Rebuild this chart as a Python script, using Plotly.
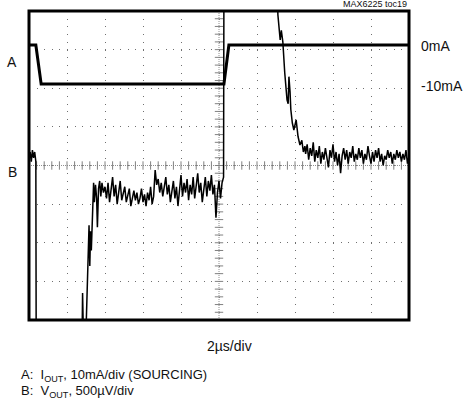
import numpy as np
import plotly.graph_objects as go

# ---- data (in scope divisions: x 0..10, y -4..4) ----
# Trace A: output current (1 div = 10 mA), 0mA level ~3.12 div
A_t = [0.00, 0.18, 0.32, 5.13, 5.26, 10.00]
A_v = [3.12, 3.12, 2.11, 2.11, 3.12, 3.12]

# Trace B: output voltage (1 div = 500 uV)
B_left_t = [0.00, 0.03, 0.06, 0.09, 0.12, 0.15, 0.18, 0.19]
B_left_v = [0.15, 0.35, 0.10, 0.40, 0.20, 0.35, 0.10, -5.0]

B_rise_t = [1.39, 1.41, 1.43, 1.45, 1.50, 1.53, 1.56, 1.58, 1.60, 1.62, 1.64, 1.66,
            1.68, 1.70, 1.72, 1.75, 1.78, 1.80, 1.83, 1.86, 1.89, 1.92, 1.96]
B_rise_v = [-5.0, -3.3, -4.3, -5.0, -4.3, -3.2, -2.5, -1.55, -2.6, -1.7, -2.2, -1.5,
            -1.05, -0.45, -0.95, -0.5, -0.85, -1.6, -0.6, -0.4, -0.8, -0.45, -0.7]

B_mid_t0 = 2.00
B_mid_v = [-0.55, -0.85, -0.45, -0.95, -0.60, -0.30, -0.80, -0.50, -1.00, -0.65,
           -0.40, -0.90, -0.70, -0.55, -0.95, -0.75, -0.60, -1.05, -0.80, -0.65,
           -0.90, -0.70, -1.00, -0.85, -0.60, -0.95, -0.75, -1.05, -0.70, -0.90,
           -0.55, -1.00, -0.80, -0.12, -0.50, -0.35, -0.70, -0.45, -0.80, -0.55,
           -0.30, -0.75, -0.50, -0.95, -0.60, -0.40, -0.85, -0.55, -1.05, -0.65,
           -0.25, -0.80, -0.45, -0.70, -0.35, -0.90, -0.50, -0.75, -0.30, -0.85,
           -0.55, -0.20, -0.70, -0.45, -0.95, -0.60, -0.30, -0.80, -0.40, -0.65,
           -0.25, -0.75, -0.50, -1.35, -0.70, -0.40, -0.85, -0.45]

B_jump_t = [5.12, 5.13, 6.52, 6.55, 6.61, 6.64, 6.66, 6.68, 6.73, 6.79, 6.82, 6.84,
            6.87, 6.89, 6.93, 6.97, 7.00, 7.03, 7.08, 7.13, 7.18, 7.22, 7.26]
B_jump_v = [-0.30, 5.0, 5.0, 3.9, 3.25, 3.5, 3.3, 3.2, 2.4, 1.7, 1.6, 2.3,
            1.9, 1.45, 1.1, 0.92, 1.05, 1.18, 0.75, 0.53, 0.65, 0.35, 0.50]

B_right_t0 = 7.28
B_right_v = [0.30, 0.55, 0.15, 0.45, 0.25, 0.60, 0.10, 0.40, 0.20, 0.50,
             0.05, 0.35, 0.15, 0.45, 0.25, -0.05, 0.40, 0.20, 0.55, 0.10,
             0.35, 0.00, 0.30, -0.20, 0.25, 0.45, 0.15, 0.40, 0.05, 0.35,
             0.20, 0.50, 0.10, 0.30, 0.15, 0.45, 0.20, 0.40, 0.05, 0.30,
             0.15, 0.50, 0.25, 0.05, 0.35, 0.10, 0.40, 0.20, 0.45, 0.10,
             0.30, 0.00, 0.25, 0.15, 0.40, 0.20, 0.35, 0.05, 0.30, 0.15,
             0.40, 0.20, 0.35, 0.10, 0.30, 0.15, 0.40, 0.05, 0.25]

SAMPLE = 0.04
mid_t = [round(B_mid_t0 + i * SAMPLE, 3) for i in range(len(B_mid_v))]
right_t = [round(B_right_t0 + i * SAMPLE, 3) for i in range(len(B_right_v))]

B_t = B_left_t + B_rise_t + mid_t + B_jump_t + right_t
B_v = B_left_v + B_rise_v + B_mid_v + B_jump_v + B_right_v

minor_x = [round(i * 0.2, 2) for i in range(51)]
minor_y = [round(-4 + i * 0.2, 2) for i in range(41)]

FONT = "Liberation Sans, Arial, Helvetica, sans-serif"

fig = go.Figure()

# center crosshair (dense dotted) with minor ticks
fig.add_trace(go.Scatter(x=[0, 10], y=[0, 0], mode="lines",
                         line=dict(color="#909090", width=1, dash="1px,1px"),
                         hoverinfo="skip", showlegend=False))
fig.add_trace(go.Scatter(x=[5, 5], y=[-4, 4], mode="lines",
                         line=dict(color="#909090", width=1, dash="1px,1px"),
                         hoverinfo="skip", showlegend=False))
fig.add_trace(go.Scatter(x=minor_x, y=[0] * len(minor_x), mode="markers",
                         marker=dict(symbol="line-ns", size=6,
                                     line=dict(color="#808080", width=1)),
                         hoverinfo="skip", showlegend=False))
fig.add_trace(go.Scatter(x=[5] * len(minor_y), y=minor_y, mode="markers",
                         marker=dict(symbol="line-ew", size=6,
                                     line=dict(color="#808080", width=1)),
                         hoverinfo="skip", showlegend=False))

# traces
fig.add_trace(go.Scatter(x=B_t, y=B_v, mode="lines",
                         line=dict(color="black", width=1.5),
                         hoverinfo="skip", showlegend=False))
fig.add_trace(go.Scatter(x=A_t, y=A_v, mode="lines",
                         line=dict(color="black", width=3),
                         hoverinfo="skip", showlegend=False))

fig.update_xaxes(range=[0, 10], dtick=1, tick0=0, showticklabels=False, ticks="",
                 showgrid=True, gridcolor="#707070", gridwidth=1,
                 griddash="1px,6.72px", zeroline=False, showline=False,
                 fixedrange=True)
fig.update_yaxes(range=[-4, 4], dtick=1, tick0=0, showticklabels=False, ticks="",
                 showgrid=True, gridcolor="#707070", gridwidth=1,
                 griddash="1px,6.6px", zeroline=False, showline=False,
                 fixedrange=True)

fig.add_shape(type="rect", xref="paper", yref="paper", x0=0, y0=0, x1=1, y1=1,
              line=dict(color="black", width=3), layer="above")

W, H = 463, 409
L, R, T, B = 29, 54, 11, 89
pw, ph = W - L - R, H - T - B

ann = []
def txt(x, y, s, size, xanchor="left", yanchor="middle"):
    ann.append(dict(x=(x - L) / pw, y=(H - B - y) / ph,
                    xref="paper", yref="paper", text=s, showarrow=False,
                    xanchor=xanchor, yanchor=yanchor,
                    font=dict(family=FONT, size=size, color="#111")))

txt(12, 62, "A", 14, "center")
txt(12, 172, "B", 14, "center")
txt(419, 46, "0mA", 14)
txt(419, 86, "-10mA", 14)
txt(409, 4, "MAX6225 toc19", 9, "right")
txt(229, 346, "2µs/div", 14, "center")
txt(19, 375, "A:  I<sub>OUT</sub>, 10mA/div (SOURCING)", 13)
txt(19, 392, "B:  V<sub>OUT</sub>, 500µV/div", 13)

fig.update_layout(width=W, height=H, margin=dict(l=L, r=R, t=T, b=B),
                  paper_bgcolor="white", plot_bgcolor="white",
                  annotations=ann, showlegend=False)

fig.write_html("out.html", config={"displayModeBar": False},
               post_script="document.body.style.margin='0px';")
